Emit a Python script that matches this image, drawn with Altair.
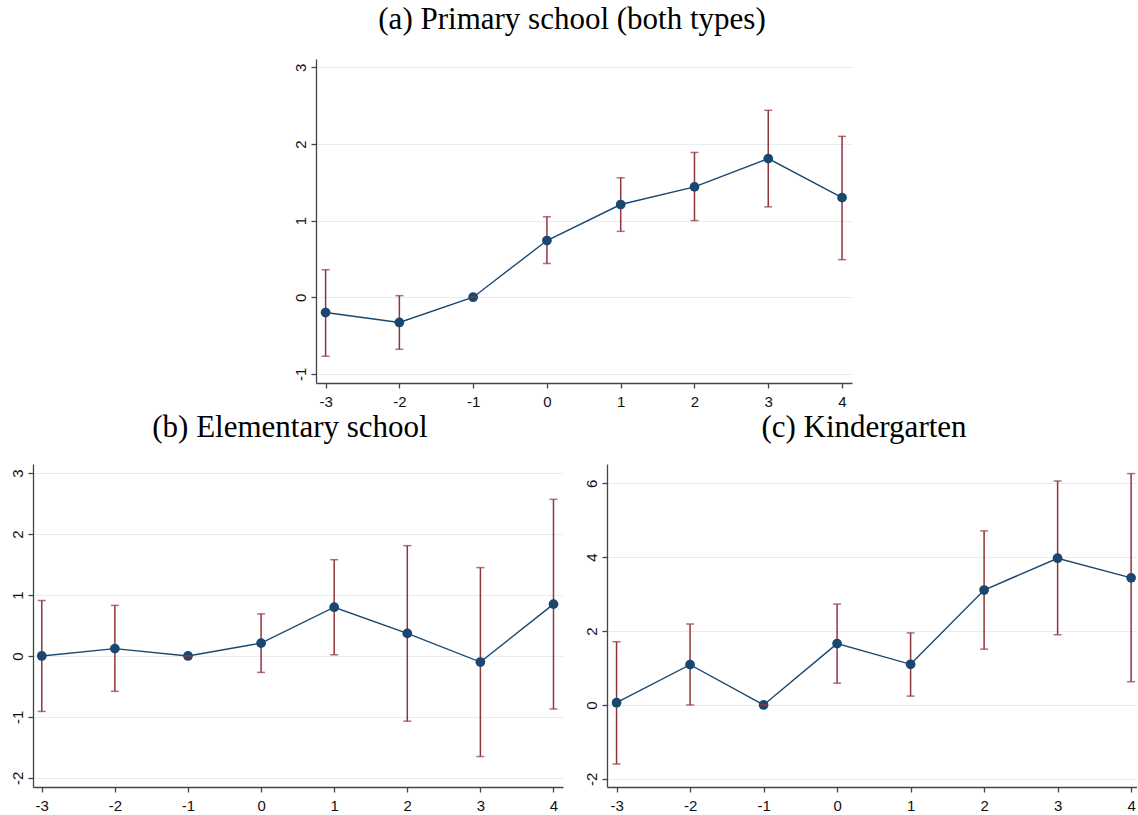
import altair as alt
import pandas as pd

# event time
x_vals = [-3, -2, -1, 0, 1, 2, 3, 4]

# (a) Primary school (both types)
a_est = [-0.20, -0.33, 0.00, 0.74, 1.21, 1.44, 1.81, 1.30]
a_lo = [-0.77, -0.68, 0.00, 0.44, 0.86, 1.00, 1.18, 0.49]
a_hi = [0.36, 0.02, 0.00, 1.05, 1.56, 1.89, 2.44, 2.10]

# (b) Elementary school
b_est = [0.00, 0.12, 0.00, 0.21, 0.80, 0.37, -0.10, 0.85]
b_lo = [-0.91, -0.58, 0.00, -0.27, 0.02, -1.07, -1.65, -0.87]
b_hi = [0.91, 0.83, 0.00, 0.69, 1.58, 1.81, 1.45, 2.57]

# (c) Kindergarten
c_est = [0.06, 1.09, 0.00, 1.66, 1.10, 3.11, 3.97, 3.44]
c_lo = [-1.60, 0.00, 0.00, 0.59, 0.24, 1.51, 1.90, 0.63]
c_hi = [1.71, 2.19, 0.00, 2.73, 1.95, 4.71, 6.06, 6.26]

a_yticks = [-1, 0, 1, 2, 3]
b_yticks = [-2, -1, 0, 1, 2, 3]
c_yticks = [-2, 0, 2, 4, 6]

NAVY = "#1a476f"
RED = "#90353b"
LBL = "toString(datum.value)"
FS = 15


def panel(title, est, lo, hi, ydom, yticks, xdom, w, h, dx, toff):
    df = pd.DataFrame({"x": x_vals, "est": est, "lo": lo, "hi": hi})
    xs = alt.Scale(domain=xdom, nice=False, zero=False)
    ys = alt.Scale(domain=ydom, nice=False, zero=False)
    xax = alt.Axis(values=x_vals, grid=False, title=None, labelExpr=LBL, labelPadding=6,
                   labelFontSize=FS, labelFont="Liberation Sans")
    yax = alt.Axis(values=yticks, grid=True, title=None, labelAngle=270, labelExpr=LBL,
                   labelPadding=3, labelFontSize=FS, labelFont="Liberation Sans")
    X = alt.X("x:Q", scale=xs, axis=xax)
    base = alt.Chart(df)
    rule = base.mark_rule(color=RED, strokeWidth=1.5).encode(
        x=X, y=alt.Y("lo:Q", scale=ys, axis=yax), y2="hi:Q")
    cap_lo = base.mark_tick(color=RED, orient="horizontal", size=8, thickness=1.5).encode(
        x=X, y=alt.Y("lo:Q", scale=ys, axis=yax))
    cap_hi = base.mark_tick(color=RED, orient="horizontal", size=8, thickness=1.5).encode(
        x=X, y=alt.Y("hi:Q", scale=ys, axis=yax))
    line = base.mark_line(color=NAVY, strokeWidth=1.4).encode(
        x=X, y=alt.Y("est:Q", scale=ys, axis=yax))
    pts = base.mark_circle(color=NAVY, size=95, opacity=1).encode(
        x=X, y=alt.Y("est:Q", scale=ys, axis=yax))
    return alt.layer(rule, line, pts, cap_lo, cap_hi).properties(
        width=w, height=h,
        title=alt.TitleParams(title, font="Liberation Serif", fontSize=31,
                              fontWeight="normal", color="#000", anchor="middle",
                              offset=toff, dx=dx),
    )


top = panel("(a) Primary school (both types)", a_est, a_lo, a_hi,
            [-1.12, 3.11], a_yticks, [-3.13, 4.135], 536, 324, -12, 23)
bl = panel("(b) Elementary school", b_est, b_lo, b_hi,
           [-2.15, 3.15], b_yticks, [-3.12, 4.13], 530, 323, -8, 20)
br = panel("(c) Kindergarten", c_est, c_lo, c_hi,
           [-2.22, 6.52], c_yticks, [-3.13, 4.08], 530, 323, -8, 20)

spacer = alt.Chart(pd.DataFrame({"v": [0]})).mark_point(opacity=0, size=0).encode(
    x=alt.value(100), y=alt.value(5)).properties(width=259, height=10)

chart = alt.vconcat(
    alt.hconcat(spacer, top, spacing=0),
    alt.hconcat(bl, br, spacing=21),
    spacing=3,
).properties(
    padding={"left": 10, "top": 4, "right": 0, "bottom": 0},
    background="white",
).configure_view(stroke=None).configure_axis(
    labelColor="#111",
    tickColor="#444", domainColor="#444", tickSize=5,
    gridColor="#e6eef0", gridWidth=1.2, domainWidth=1.3, tickWidth=1.3,
)

chart.save("out.html", embed_options={"renderer": "svg", "actions": False})
